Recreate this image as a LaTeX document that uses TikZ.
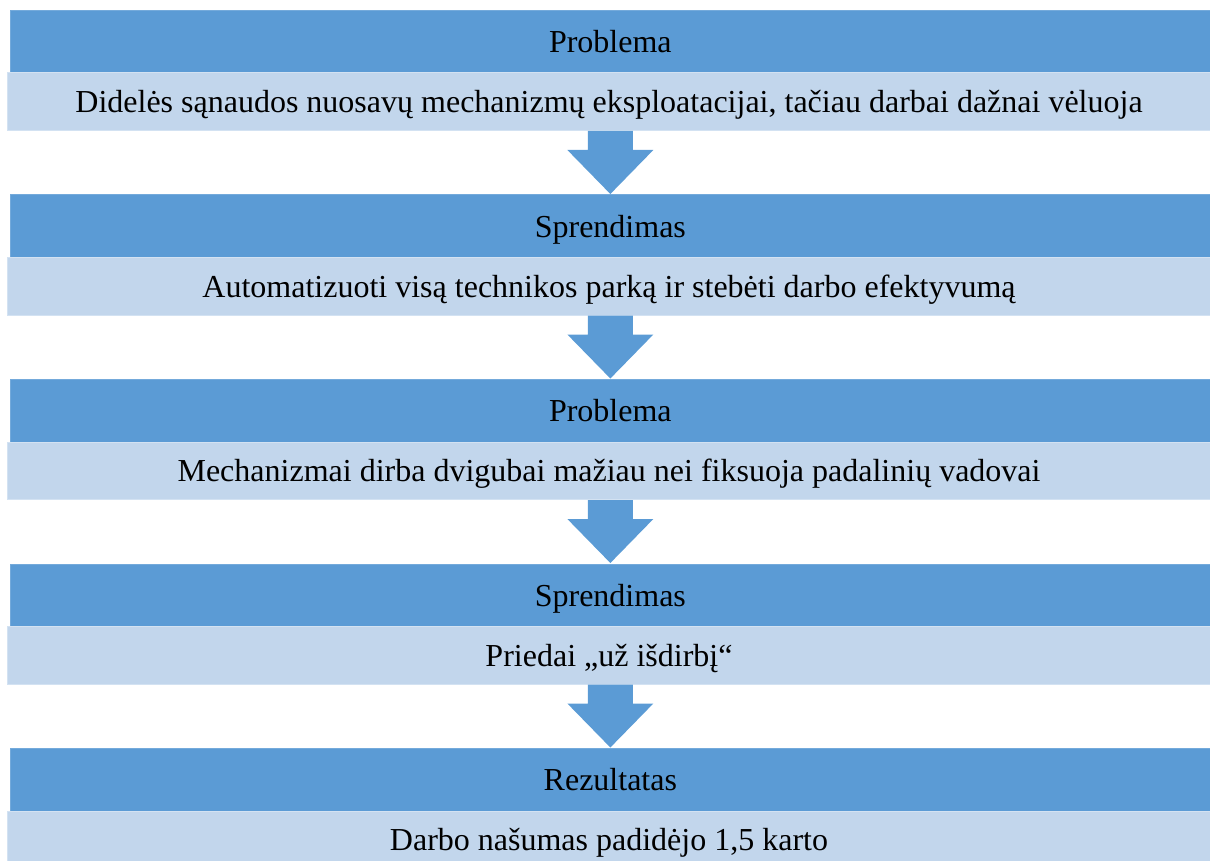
\documentclass[tikz,border=0pt]{standalone}
\usepackage{fontspec}
\setmainfont{Liberation Serif}
\usetikzlibrary{calc}

\definecolor{accent}{HTML}{5B9BD5}
\definecolor{accentlight}{HTML}{C2D6EC}
\definecolor{accentedge}{HTML}{D3E2F2}

\tikzset{
  headbox/.style={rectangle, anchor=north west, fill=accent, draw=accent!85!white,
    line width=0.7pt, minimum width=1200pt, minimum height=62.5pt, inner sep=0pt,
    font=\fontsize{32}{32}\selectfont, text height=24pt, text depth=1.5pt},
  bodybox/.style={rectangle, anchor=north west, fill=accentlight, draw=accentedge,
    line width=1pt, minimum width=1203pt, minimum height=57.5pt, inner sep=0pt,
    font=\fontsize{32}{32}\selectfont, text height=23pt, text depth=1.5pt},
  blockarrow/.style={fill=accent, draw=none,
    to path={let \p1=(\tikztostart), \p2=(\tikztotarget) in
      (\x2-22.5pt,\y1) -- (\x2+22.5pt,\y1) -- (\x2+22.5pt,\y1-19pt)
      -- (\x2+43pt,\y1-19pt) -- (\x2,\y2+0.5pt) -- (\x2-43pt,\y1-19pt)
      -- (\x2-22.5pt,\y1-19pt) -- cycle}}
}

\begin{document}
\begin{tikzpicture}[x=1pt, y=-1pt]
\useasboundingbox (0,0) rectangle (1210,861);
\clip (0,0) rectangle (1210,861);

% stage headings and their descriptions
\node[headbox] (d1) at (10,10) {Problema};
\node[bodybox] (l1) at (7,72.5) {Didelės sąnaudos nuosavų mechanizmų eksploatacijai, tačiau darbai dažnai vėluoja};

\node[headbox] (d2) at (10,194.5) {Sprendimas};
\node[bodybox] (l2) at (7,257) {Automatizuoti visą technikos parką ir stebėti darbo efektyvumą};

\node[headbox] (d3) at (10,379) {Problema};
\node[bodybox] (l3) at (7,441.5) {Mechanizmai dirba dvigubai mažiau nei fiksuoja padalinių vadovai};

\node[headbox] (d4) at (10,563.5) {Sprendimas};
\node[bodybox] (l4) at (7,626) {Priedai „už išdirbį“};

\node[headbox] (d5) at (10,748) {Rezultatas};
\node[bodybox] (l5) at (7,810.5) {Darbo našumas padidėjo 1,5 karto};

% downward block arrows between stages
\path[blockarrow] (l1.south) to (d2.north);
\path[blockarrow] (l2.south) to (d3.north);
\path[blockarrow] (l3.south) to (d4.north);
\path[blockarrow] (l4.south) to (d5.north);
\end{tikzpicture}
\end{document}
